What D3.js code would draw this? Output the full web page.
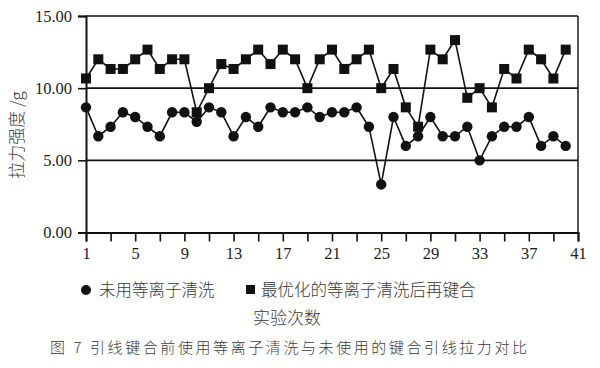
<!DOCTYPE html>
<html>
<head>
<meta charset="utf-8">
<script src="https://cdn.jsdelivr.net/npm/d3@7"></script>
<style>
  body { margin: 0; background: #fff; }
  .num { font-family: "Liberation Serif", "Times New Roman", serif; fill: #1a1a1a; }
  .cjk { font-family: "Noto Sans CJK SC", sans-serif; fill: #3a3a3a; font-weight: 300; }
</style>
</head>
<body>
<div id="chart"></div>
<script>
// experiment index 1..40
var runs = d3.range(1, 41);

// bond pull strength (g), without plasma cleaning
var untreated = [
  8.67, 6.67, 7.33, 8.33, 8.00, 7.33, 6.67, 8.33, 8.33, 7.67,
  8.67, 8.33, 6.67, 8.00, 7.33, 8.67, 8.33, 8.33, 8.67, 8.00,
  8.33, 8.33, 8.67, 7.33, 3.33, 8.00, 6.00, 6.67, 8.00, 6.67,
  6.67, 7.33, 5.00, 6.67, 7.33, 7.33, 8.00, 6.00, 6.67, 6.00
];

// bond pull strength (g), optimized plasma cleaning then bonding
var optimized = [
  10.67, 12.00, 11.33, 11.33, 12.00, 12.67, 11.33, 12.00, 12.00, 8.33,
  10.00, 11.67, 11.33, 12.00, 12.67, 11.67, 12.67, 12.00, 10.00, 12.00,
  12.67, 11.33, 12.00, 12.67, 10.00, 11.33, 8.67, 7.33, 12.67, 12.00,
  13.33, 9.33, 10.00, 8.67, 11.33, 10.67, 12.67, 12.00, 10.67, 12.67
];

var yTicks = [0, 5, 10, 15];
var xTicks = [1, 5, 9, 13, 17, 21, 25, 29, 33, 37, 41];
var xMinorTicks = d3.range(1, 42, 2);

var seriesNames = ['未用等离子清洗', '最优化的等离子清洗后再键合'];
var yTitle = '拉力强度 /g';
var xTitle = '实验次数';
var caption = '图 7 引线键合前使用等离子清洗与未使用的键合引线拉力对比';

var width = 600, height = 368;
var margin = {top: 16, right: 22, bottom: 135.5, left: 86};

var svg = d3.select('#chart').append('svg')
  .attr('width', width)
  .attr('height', height);

var x = d3.scaleLinear().domain([1, 41]).range([margin.left, width - margin.right]);
var y = d3.scaleLinear().domain([0, 15]).range([height - margin.bottom, margin.top]);

// horizontal grid lines + frame
svg.append('g')
  .selectAll('line')
  .data(yTicks.slice(1))
  .enter().append('line')
  .attr('x1', x(1)).attr('x2', x(41))
  .attr('y1', function(d) { return y(d); })
  .attr('y2', function(d) { return y(d); })
  .attr('stroke', '#111').attr('stroke-width', 1.6);

svg.append('line')
  .attr('x1', x(41)).attr('x2', x(41))
  .attr('y1', y(0)).attr('y2', y(15))
  .attr('stroke', '#111').attr('stroke-width', 1.4);

// y axis
var yAxis = svg.append('g')
  .attr('transform', 'translate(' + x(1) + ',0)')
  .call(d3.axisLeft(y).tickValues(yTicks).tickFormat(d3.format('.2f')).tickSize(8).tickPadding(6));
yAxis.select('.domain').attr('stroke', '#111').attr('stroke-width', 2);
yAxis.selectAll('.tick line').attr('stroke', '#111').attr('stroke-width', 1.6);
yAxis.selectAll('.tick text').attr('class', 'num').style('font-size', '16.5px');

// x axis: ticks every 2 runs, labels every 4
var xAxis = svg.append('g')
  .attr('transform', 'translate(0,' + y(0) + ')')
  .call(d3.axisBottom(x).tickValues(xMinorTicks).tickSize(9).tickPadding(6)
    .tickFormat(function(d) { return xTicks.indexOf(d) >= 0 ? d : ''; }));
xAxis.select('.domain').attr('stroke', '#111').attr('stroke-width', 2);
xAxis.selectAll('.tick line').attr('stroke', '#111').attr('stroke-width', 1.6);
xAxis.selectAll('.tick text').attr('class', 'num').style('font-size', '16.5px');

// lines
var line = d3.line()
  .x(function(d, i) { return x(runs[i]); })
  .y(function(d) { return y(d); });

[untreated, optimized].forEach(function(s) {
  svg.append('path')
    .datum(s)
    .attr('d', line)
    .attr('fill', 'none')
    .attr('stroke', '#111')
    .attr('stroke-width', 1.6);
});

// markers
svg.append('g').selectAll('circle')
  .data(untreated)
  .enter().append('circle')
  .attr('cx', function(d, i) { return x(runs[i]); })
  .attr('cy', function(d) { return y(d); })
  .attr('r', 5.2)
  .attr('fill', '#111');

var sq = 10;
svg.append('g').selectAll('rect')
  .data(optimized)
  .enter().append('rect')
  .attr('x', function(d, i) { return x(runs[i]) - sq / 2; })
  .attr('y', function(d) { return y(d) - sq / 2; })
  .attr('width', sq).attr('height', sq)
  .attr('fill', '#111');

// legend
var legendY = 290;
svg.append('circle').attr('cx', 86).attr('cy', legendY).attr('r', 5).attr('fill', '#111');
svg.append('text').attr('class', 'cjk')
  .attr('x', 99).attr('y', legendY).attr('dy', '0.35em')
  .style('font-size', '16.5px').text(seriesNames[0]);
svg.append('rect').attr('x', 246).attr('y', legendY - 5).attr('width', 9).attr('height', 9).attr('fill', '#111');
svg.append('text').attr('class', 'cjk')
  .attr('x', 261).attr('y', legendY).attr('dy', '0.35em')
  .style('font-size', '16.5px').text(seriesNames[1]);

// axis titles
svg.append('text').attr('class', 'cjk')
  .attr('x', 287).attr('y', 318).attr('dy', '0.35em')
  .attr('text-anchor', 'middle')
  .style('font-size', '17px').text(xTitle);

svg.append('text').attr('class', 'cjk')
  .attr('transform', 'translate(17,135) rotate(-90)')
  .attr('dy', '0.35em')
  .attr('text-anchor', 'middle')
  .style('font-size', '17px').text(yTitle);

// caption
svg.append('text').attr('class', 'cjk')
  .attr('x', 50).attr('y', 348).attr('dy', '0.35em')
  .attr('textLength', 477).attr('lengthAdjust', 'spacing')
  .style('font-size', '15px').text(caption);
</script>
</body>
</html>
